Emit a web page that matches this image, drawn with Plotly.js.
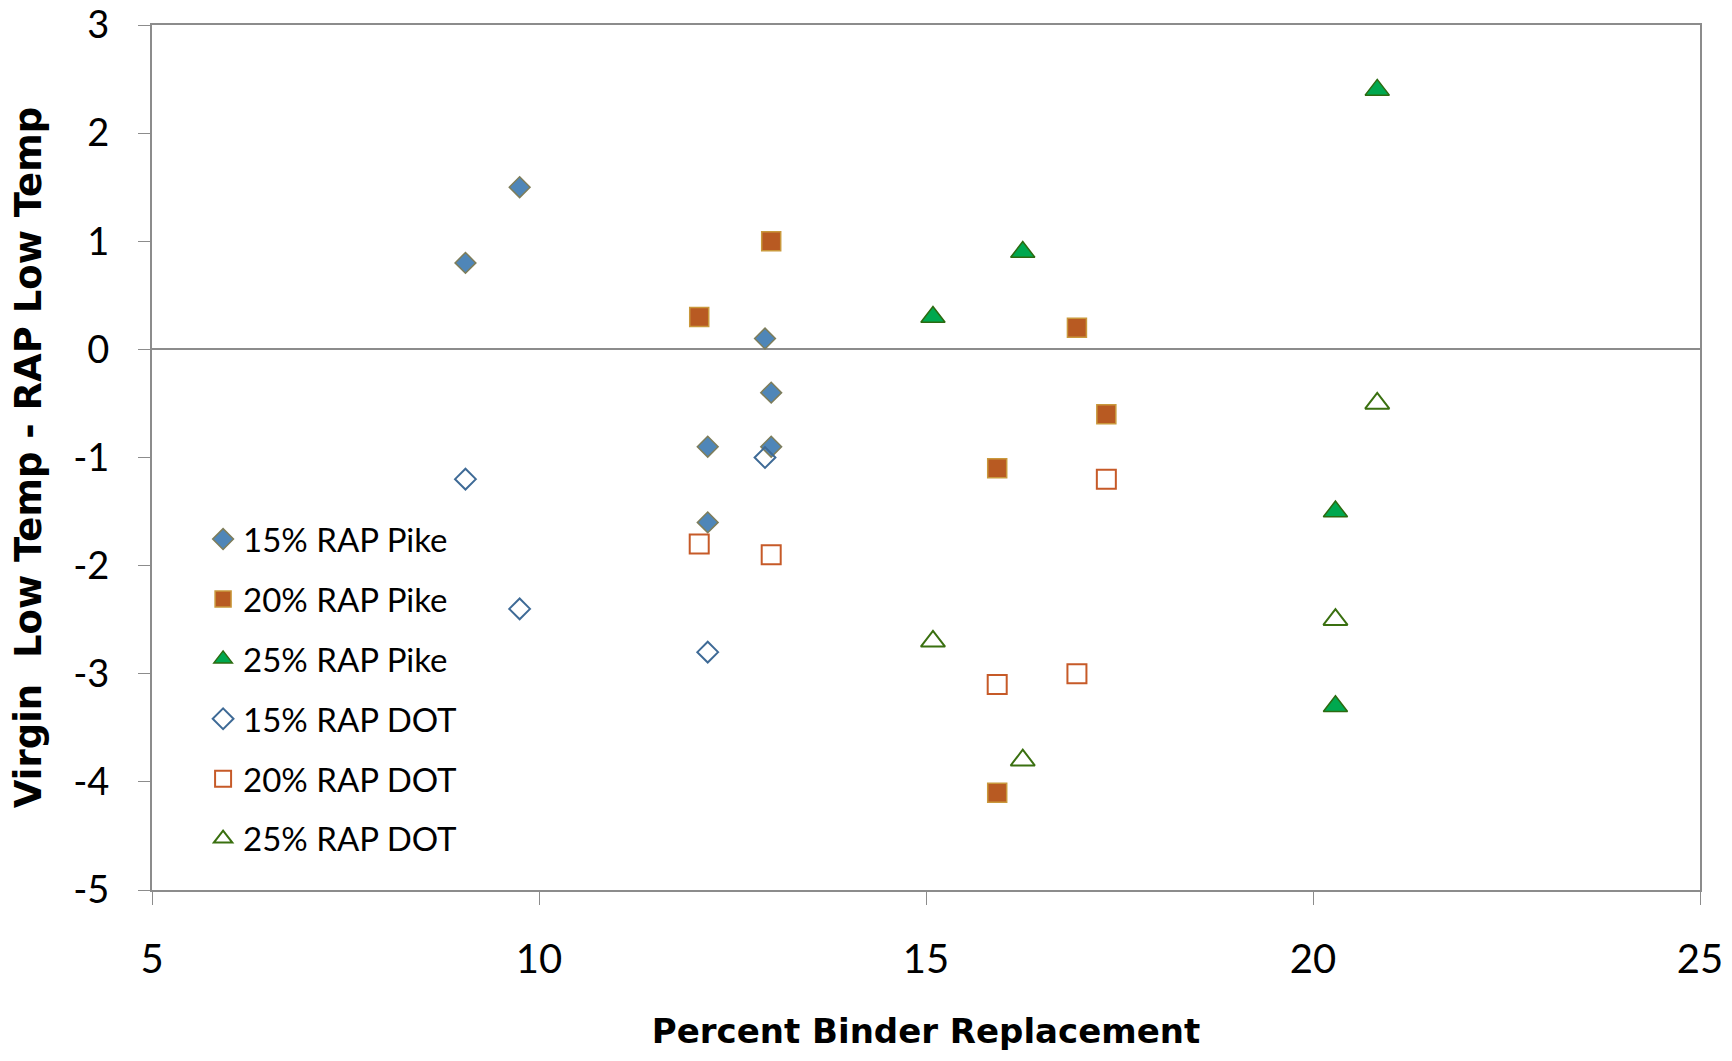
<!DOCTYPE html>
<html>
<head>
<meta charset="utf-8">
<script src="https://cdn.plot.ly/plotly-3.0.1.min.js"></script>
<style>
  html, body { margin: 0; padding: 0; background: #ffffff; }
  #chart { width: 1732px; height: 1061px; }
</style>
</head>
<body>
<div id="chart"></div>
<script>
// Series data (x = Percent Binder Replacement, y = Virgin Low Temp - RAP Low Temp)
const pike15_x = [9.05, 9.75, 12.92, 13.0, 12.18, 13.0, 12.18];
const pike15_y = [0.8, 1.5, 0.1, -0.4, -0.9, -0.9, -1.6];

const pike20_x = [12.07, 13.0, 16.95, 17.33, 15.92, 15.92];
const pike20_y = [0.3, 1.0, 0.2, -0.6, -1.1, -4.1];

const pike25_x = [20.83, 16.25, 15.09, 20.29, 20.29];
const pike25_y = [2.4, 0.9, 0.3, -1.5, -3.3];

const dot15_x = [9.05, 9.75, 12.18, 12.92];
const dot15_y = [-1.2, -2.4, -2.8, -1.0];

const dot20_x = [12.07, 13.0, 17.33, 15.92, 16.95];
const dot20_y = [-1.8, -1.9, -1.2, -3.1, -3.0];

const dot25_x = [20.83, 20.29, 15.09, 16.25];
const dot25_y = [-0.5, -2.5, -2.7, -3.8];

const seriesNames = ["15% RAP Pike", "20% RAP Pike", "25% RAP Pike", "15% RAP DOT", "20% RAP DOT", "25% RAP DOT"];

const xTickVals = [5, 10, 15, 20, 25];
const yTickVals = [-5, -4, -3, -2, -1, 0, 1, 2, 3];

const FONT = "Lato, 'Noto Sans', sans-serif";
const TITLE_FONT = "'DejaVu Sans', Lato, sans-serif";

function mk(name, xs, ys, symbol, size, fill, line, lw, group) {
  return {
    type: "scatter", mode: "markers", name: name, x: xs, y: ys,
    legendgroup: group,
    marker: { symbol: symbol, size: size, color: fill, line: { color: line, width: lw } },
    hoverinfo: "x+y+name"
  };
}

const traces = [
  mk(seriesNames[0], pike15_x, pike15_y, "diamond", 16, "#4F86B8", "#7E7D5A", 1.5, "g1"),
  mk(seriesNames[1], pike20_x, pike20_y, "square", 19, "#B85A22", "#C9983C", 1.5, "g2"),
  mk(seriesNames[2], pike25_x, pike25_y, "triangle-up", 21, "#00A84F", "#2C6A10", 1.5, "g3"),
  mk(seriesNames[3], dot15_x, dot15_y, "diamond-open", 16, "#3E6A96", "#3E6A96", 2, "g4"),
  mk(seriesNames[4], dot20_x, dot20_y, "square-open", 19, "#C65A28", "#C65A28", 2, "g5"),
  mk(seriesNames[5], dot25_x, dot25_y, "triangle-up-open", 21, "#3A7010", "#3A7010", 2, "g6")
];

const layout = {
  width: 1732, height: 1061,
  margin: { l: 152, r: 32, t: 25, b: 171, pad: 0 },
  paper_bgcolor: "#ffffff",
  plot_bgcolor: "#ffffff",
  font: { family: FONT, color: "#000000" },
  showlegend: true,
  legend: {
    x: 0.033, y: 0.438, xanchor: "left", yanchor: "top",
    bgcolor: "rgba(0,0,0,0)",
    font: { family: FONT, size: 33, color: "#000000" },
    tracegroupgap: 14,
    itemsizing: "trace"
  },
  xaxis: {
    range: [5, 25], tickvals: xTickVals, ticktext: xTickVals.map(String),
    showgrid: false, zeroline: false,
    showline: true, linecolor: "#8C8C8C", linewidth: 2, mirror: true,
    ticks: "outside", ticklen: 13, tickwidth: 1, tickcolor: "#8C8C8C",
    tickfont: { family: FONT, size: 40, color: "#000000" },
    ticklabelstandoff: 20,
    ticklabeloverflow: "allow",
    title: { text: "<b>Percent Binder Replacement</b>", font: { family: TITLE_FONT, size: 34, color: "#000000" }, standoff: 38 }
  },
  yaxis: {
    range: [-5, 3], tickvals: yTickVals, ticktext: yTickVals.map(String),
    showgrid: false,
    zeroline: true, zerolinecolor: "#8C8C8C", zerolinewidth: 2,
    showline: true, linecolor: "#8C8C8C", linewidth: 2, mirror: true,
    ticks: "outside", ticklen: 12, tickwidth: 1, tickcolor: "#8C8C8C",
    tickfont: { family: FONT, size: 38, color: "#000000" },
    ticklabelstandoff: 21,
    ticklabeloverflow: "allow",
    title: { text: "<b>Virgin  Low Temp - RAP Low Temp</b>", font: { family: TITLE_FONT, size: 37, color: "#000000" }, standoff: 20 }
  }
};

Plotly.newPlot("chart", traces, layout, { displayModeBar: false, responsive: false });
</script>
</body>
</html>
